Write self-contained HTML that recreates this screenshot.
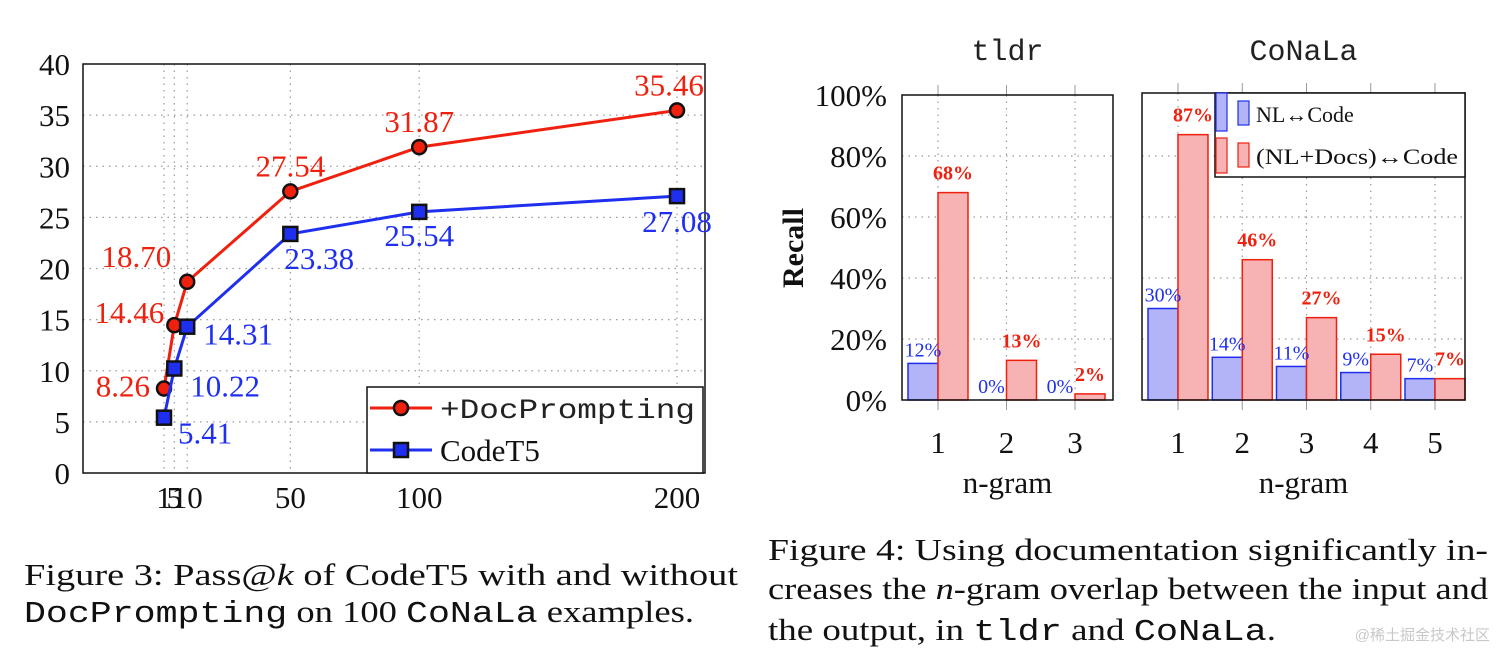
<!DOCTYPE html>
<html><head><meta charset="utf-8"><style>
html,body{margin:0;padding:0;background:#fff;width:1512px;height:661px;overflow:hidden}
svg{display:block}
.serif{font-family:"Liberation Serif",serif}
.mono{font-family:"Liberation Mono",monospace}
</style></head><body>
<svg id="s" width="1512" height="661" viewBox="0 0 1512 661" xmlns="http://www.w3.org/2000/svg">
<g id="left"></g>
<g id="right"></g>
<g class="serif" font-size="31" fill="#111">
<text x="24" y="585" textLength="714" lengthAdjust="spacingAndGlyphs">Figure 3: Pass@<tspan font-style="italic">k</tspan> of CodeT5 with and without</text>
<text x="24" y="622" textLength="670" lengthAdjust="spacingAndGlyphs"><tspan class="mono">DocPrompting</tspan> on 100 <tspan class="mono">CoNaLa</tspan> examples.</text>
</g>
<g class="serif" font-size="31" fill="#111">
<text x="768" y="560" textLength="720" lengthAdjust="spacingAndGlyphs">Figure 4: Using documentation significantly in-</text>
<text x="768" y="599" textLength="720" lengthAdjust="spacingAndGlyphs">creases the <tspan font-style="italic">n</tspan>-gram overlap between the input and</text>
<text x="768" y="640" textLength="508" lengthAdjust="spacingAndGlyphs">the output, in <tspan class="mono">tldr</tspan> and <tspan class="mono">CoNaLa</tspan>.</text>
</g>
<text x="1490" y="640" text-anchor="end" font-size="15" fill="#c8c8c8" font-family="'Liberation Sans','Noto Sans CJK SC',sans-serif">@稀土掘金技术社区</text>
</svg>
<script>
// ---- Figure 3 data ----
const kValues = [1, 5, 10, 50, 100, 200];
const docPrompting = [8.26, 14.46, 18.70, 27.54, 31.87, 35.46];
const codeT5 = [5.41, 10.22, 14.31, 23.38, 25.54, 27.08];
const yTicks3 = [0, 5, 10, 15, 20, 25, 30, 35, 40];
const xTicks3 = [1, 5, 10, 50, 100, 200];
// ---- Figure 4 data ----
const tldrCats = ['1', '2', '3'];
const tldrNL = [12, 0, 0];
const tldrDocs = [68, 13, 2];
const conalaCats = ['1', '2', '3', '4', '5'];
const conalaNL = [30, 14, 11, 9, 7];
const conalaDocs = [87, 46, 27, 15, 7];
const yTicks4 = [0, 20, 40, 60, 80, 100];

const NS = 'http://www.w3.org/2000/svg';
function mk(parent, tag, attrs, text) {
  const e = document.createElementNS(NS, tag);
  for (const k in attrs) e.setAttribute(k, attrs[k]);
  if (text !== undefined) e.textContent = text;
  parent.appendChild(e);
  return e;
}
const RED = '#f0200f', BLUE = '#1f2ff0';

// ===== Left chart =====
const L = document.getElementById('left');
const bx0 = 83, bx1 = 705, by0 = 64, by1 = 473;
const xS = v => 164 + (v - 1) * 2.578;
const yS = v => by1 - v * (by1 - by0) / 40;
yTicks3.forEach(t => {
  if (t > 0 && t < 40) {
    const g = mk(L, 'line', {x1: bx0, x2: bx1, y1: yS(t), y2: yS(t), stroke: '#999', 'stroke-width': 1.2, 'stroke-dasharray': '1.5 5'});
    
    
  }
  const tl = mk(L, 'text', {x: 70, y: yS(t) + 11, 'text-anchor': 'end', 'font-size': 31, class: 'serif', fill: '#111'}, String(t));
  
  
});
xTicks3.forEach(t => {
  const g = mk(L, 'line', {x1: xS(t), x2: xS(t), y1: by0, y2: by1, stroke: '#999', 'stroke-width': 1.2, 'stroke-dasharray': '1.5 5'});
  
  
  const tl = mk(L, 'text', {x: xS(t), y: 508, 'text-anchor': 'middle', 'font-size': 31, class: 'serif', fill: '#111'}, String(t));
  
  
});
const frame = mk(L, 'rect', {x: bx0, y: by0, width: bx1 - bx0, height: by1 - by0, fill: 'none', stroke: '#111', 'stroke-width': 1.5});



function series(vals, color, marker, name, labelOff) {
  const pts = vals.map((v, i) => xS(kValues[i]) + ',' + yS(v)).join(' ');
  const pl = mk(L, 'polyline', {points: pts, fill: 'none', stroke: color, 'stroke-width': 3});
  
  
  vals.forEach((v, i) => {
    const cx = xS(kValues[i]), cy = yS(v);
    let m;
    if (marker === 'circle') m = mk(L, 'circle', {cx: cx, cy: cy, r: 7, fill: color, stroke: '#111', 'stroke-width': 2.5});
    else m = mk(L, 'rect', {x: cx - 7, y: cy - 7, width: 14, height: 14, fill: color, stroke: '#111', 'stroke-width': 2.5});
    
    
    const o = labelOff[i];
    const t = mk(L, 'text', {x: cx + o[0], y: cy + o[1], 'text-anchor': o[2], 'font-size': 31, class: 'serif', fill: color}, v.toFixed(2));
    
    
  });
}
series(docPrompting, RED, 'circle', 'docprompting', [[-14, 8, 'end'], [-10, -2, 'end'], [-16, -15, 'end'], [0, -15, 'middle'], [0, -15, 'middle'], [-8, -15, 'middle']]);
series(codeT5, BLUE, 'square', 'codet5', [[14, 26, 'start'], [16, 28, 'start'], [16, 18, 'start'], [-6, 35, 'start'], [0, 34, 'middle'], [0, 36, 'middle']]);

// legend
const lg = mk(L, 'g', {});


mk(lg, 'rect', {x: 367, y: 387, width: 336, height: 86, fill: '#fff', stroke: '#111', 'stroke-width': 1.5});
mk(lg, 'line', {x1: 370, x2: 432, y1: 408, y2: 408, stroke: RED, 'stroke-width': 3});
mk(lg, 'circle', {cx: 401, cy: 408, r: 7, fill: RED, stroke: '#111', 'stroke-width': 2.5});
const le1 = mk(lg, 'text', {x: 440, y: 418, 'font-size': 28, class: 'mono', fill: '#222', textLength: 255, lengthAdjust: 'spacingAndGlyphs'}, '+DocPrompting');


mk(lg, 'line', {x1: 370, x2: 432, y1: 450, y2: 450, stroke: BLUE, 'stroke-width': 3});
mk(lg, 'rect', {x: 394, y: 443, width: 14, height: 14, fill: BLUE, stroke: '#111', 'stroke-width': 2.5});
const le2 = mk(lg, 'text', {x: 440, y: 461, 'font-size': 31, class: 'serif', fill: '#111'}, 'CodeT5');



// ===== Right chart =====
const R = document.getElementById('right');
const ry0 = 95, ry1 = 400;
const yR = v => ry1 - v * (ry1 - ry0) / 100;
const BW = 30;
function panel(x0, x1, cats, firstX, step, nl, docs, title, name, yTop) {
  const g = mk(R, 'g', {});
  
  
  const cx = i => firstX + i * step;
  yTicks4.forEach(t => {
    if (t > 0 && t < 100) mk(g, 'line', {x1: x0, x2: x1, y1: yR(t), y2: yR(t), stroke: '#999', 'stroke-width': 1.2, 'stroke-dasharray': '1.5 5'});
  });
  cats.forEach((c, i) => {
    mk(g, 'line', {x1: cx(i), x2: cx(i), y1: yTop, y2: ry1, stroke: '#999', 'stroke-width': 1.2, 'stroke-dasharray': '1.5 5'});
    mk(g, 'line', {x1: cx(i), x2: cx(i), y1: yTop - 10, y2: yTop, stroke: '#999', 'stroke-width': 1});
    mk(g, 'line', {x1: cx(i), x2: cx(i), y1: ry1, y2: ry1 + 10, stroke: '#999', 'stroke-width': 1});
    const b1 = mk(g, 'rect', {x: cx(i) - BW, y: yR(nl[i]), width: BW, height: ry1 - yR(nl[i]), fill: '#b3b3f7', stroke: BLUE, 'stroke-width': 1.5});
    
    
    const b2 = mk(g, 'rect', {x: cx(i), y: yR(docs[i]), width: BW, height: ry1 - yR(docs[i]), fill: '#f7b3b3', stroke: RED, 'stroke-width': 1.5});
    
    
    const t1 = mk(g, 'text', {x: cx(i) - BW / 2, y: yR(nl[i]) - 7, 'text-anchor': 'middle', 'font-size': 20, class: 'serif', fill: BLUE}, nl[i] + '%');
    
    
    const t2 = mk(g, 'text', {x: cx(i) + BW / 2, y: yR(docs[i]) - 13, 'text-anchor': 'middle', 'font-size': 20, 'font-weight': 'bold', class: 'serif', fill: RED}, docs[i] + '%');
    
    
    const xl = mk(g, 'text', {x: cx(i), y: 453, 'text-anchor': 'middle', 'font-size': 31, class: 'serif', fill: '#111'}, c);
    
    
  });
  mk(g, 'rect', {x: x0, y: yTop, width: x1 - x0, height: ry1 - yTop, fill: 'none', stroke: '#111', 'stroke-width': 1.5});
  const tt = mk(g, 'text', {x: (x0 + x1) / 2, y: 60, 'text-anchor': 'middle', 'font-size': 30, class: 'mono', fill: '#222'}, title);
  
  
  const xa = mk(g, 'text', {x: (x0 + x1) / 2, y: 493, 'text-anchor': 'middle', 'font-size': 31, class: 'serif', fill: '#111'}, 'n-gram');
  
  
}
panel(902, 1113, tldrCats, 938, 68.5, tldrNL, tldrDocs, 'tldr', 'tldr', 95);
panel(1142, 1465, conalaCats, 1178, 64.25, conalaNL, conalaDocs, 'CoNaLa', 'conala', 93);
yTicks4.forEach(t => {
  const tl = mk(R, 'text', {x: 887, y: yR(t) + 11, 'text-anchor': 'end', 'font-size': 31, class: 'serif', fill: '#111'}, t + '%');
  
  
});
const ry = mk(R, 'text', {x: 0, y: 0, transform: 'translate(803,248) rotate(-90)', 'text-anchor': 'middle', 'font-size': 30, 'font-weight': 'bold', class: 'serif', fill: '#111'}, 'Recall');


// legend
const rl = mk(R, 'g', {});


mk(rl, 'rect', {x: 1215, y: 93, width: 250, height: 84, fill: '#fff', stroke: '#111', 'stroke-width': 1.5});
mk(rl, 'rect', {x: 1216, y: 93, width: 11, height: 38, fill: '#b3b3f7', stroke: BLUE, 'stroke-width': 1.2});
mk(rl, 'rect', {x: 1238, y: 101, width: 11, height: 24, fill: '#b3b3f7', stroke: BLUE, 'stroke-width': 1.2});
mk(rl, 'rect', {x: 1216, y: 138, width: 11, height: 35, fill: '#f7b3b3', stroke: RED, 'stroke-width': 1.2});
mk(rl, 'rect', {x: 1238, y: 143, width: 11, height: 24, fill: '#f7b3b3', stroke: RED, 'stroke-width': 1.2});
const r1 = mk(rl, 'text', {x: 1256, y: 122, 'font-size': 22, class: 'serif', fill: '#111'}, 'NL↔Code');


const r2 = mk(rl, 'text', {x: 1256, y: 164, 'font-size': 22, class: 'serif', fill: '#111', textLength: 202, lengthAdjust: 'spacingAndGlyphs'}, '(NL+Docs)↔Code');


</script>
</body></html>
